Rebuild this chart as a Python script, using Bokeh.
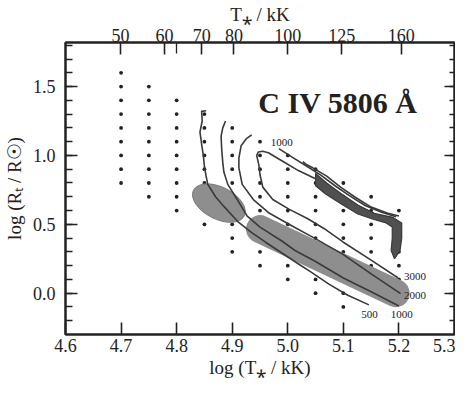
from bokeh.plotting import figure
from bokeh.models import (Range1d, LinearAxis, LogAxis, LogScale, FixedTicker,
                          SingleIntervalTicker, PrintfTickFormatter, Label,
                          CustomJSTickFormatter)
from bokeh.embed import file_html
from bokeh.resources import INLINE

# ---------------- data ----------------
x_ticks = [4.6, 4.7, 4.8, 4.9, 5.0, 5.1, 5.2, 5.3]
top_ticks_kK = [50, 60, 70, 80, 100, 125, 160]
top_minor_kK = [63.1]

grid_x = [4.70, 4.75, 4.80, 4.85, 4.90, 4.95, 5.00, 5.05, 5.10, 5.15, 5.20]
grid_y = [
    [1.6, 1.5, 1.4, 1.3, 1.2, 1.1, 1.0, 0.9, 0.8],
    [1.5, 1.4, 1.3, 1.2, 1.1, 1.0, 0.9, 0.8, 0.7],
    [1.4, 1.3, 1.2, 1.1, 1.0, 0.9, 0.8, 0.7, 0.6],
    [1.3, 1.2, 1.1, 1.0, 0.9, 0.8, 0.7, 0.6, 0.5],
    [1.2, 1.1, 1.0, 0.9, 0.8, 0.7, 0.6, 0.5, 0.4, 0.3],
    [1.1, 1.0, 0.9, 0.8, 0.7, 0.6, 0.5, 0.4, 0.3, 0.2],
    [1.0, 0.9, 0.8, 0.7, 0.6, 0.5, 0.4, 0.3, 0.2, 0.1],
    [0.9, 0.8, 0.7, 0.6, 0.5, 0.4, 0.3, 0.2, 0.1, 0.0],
    [0.8, 0.7, 0.6, 0.5, 0.4, 0.3, 0.2, 0.1, 0.0, -0.1],
    [0.7, 0.6, 0.5, 0.4, 0.3, 0.2, 0.1, 0.0],
    [0.6, 0.5, 0.4, 0.3, 0.2, 0.1],
]

# shaded regions (observed stars)
blob_x, blob_y = [4.876], [0.654]
band_x = [4.950, 5.194]
band_y = [0.465, 0.000]

# contour lines (equivalent width)
c500_x = [4.853, 4.845, 4.846, 4.842, 4.845, 4.848, 4.850, 4.853, 4.856, 4.870, 4.885,
          4.910, 4.935, 4.960, 4.990, 5.020, 5.040, 5.074, 5.108, 5.146]
c500_y = [1.325, 1.320, 1.25, 1.17, 1.08, 1.00, 0.92, 0.85, 0.79, 0.70, 0.63,
          0.52, 0.44, 0.37, 0.29, 0.21, 0.158, 0.066, -0.015, -0.085]

c1000_x = [4.888, 4.883, 4.880, 4.881, 4.883, 4.885, 4.892, 4.909, 4.927, 4.950,
           4.990, 5.013, 5.050, 5.100, 5.150, 5.200]
c1000_y = [1.250, 1.200, 1.140, 1.050, 0.950, 0.880, 0.790, 0.680, 0.560, 0.480,
           0.377, 0.310, 0.230, 0.110, 0.010, -0.093]

c2000_x = [4.935, 4.925, 4.916, 4.912, 4.912, 4.918, 4.938, 4.967, 5.007, 5.048,
           5.100, 5.150, 5.203]
c2000_y = [1.150, 1.120, 1.070, 0.980, 0.910, 0.790, 0.680, 0.580, 0.490, 0.400,
           0.280, 0.140, -0.003]

c3000_x = [5.198, 5.150, 5.100, 5.065, 5.036, 5.002, 4.973, 4.955, 4.950, 4.948,
           4.944, 4.947, 4.955, 4.965, 4.990, 5.019, 5.048, 5.075, 5.100, 5.130,
           5.160, 5.190, 5.203, 5.203, 5.200, 5.192]
c3000_y = [0.112, 0.240, 0.370, 0.470, 0.540, 0.610, 0.680, 0.770, 0.860, 0.930,
           1.000, 1.025, 1.030, 1.020, 0.960, 0.890, 0.835, 0.770, 0.700, 0.625,
           0.570, 0.545, 0.500, 0.400, 0.310, 0.255]

t2_x = [4.984, 5.007, 5.035, 5.060, 5.085, 5.110, 5.140, 5.170, 5.195]
t2_y = [1.050, 0.990, 0.920, 0.855, 0.780, 0.710, 0.635, 0.585, 0.555]
t3_x = [5.027, 5.035, 5.045, 5.070, 5.095, 5.120, 5.150, 5.180, 5.200]
t3_y = [0.955, 0.930, 0.910, 0.850, 0.770, 0.700, 0.625, 0.580, 0.560]

tongue_x = [5.050, 5.070, 5.097, 5.126, 5.155, 5.189, 5.205, 5.205, 5.202, 5.192,
            5.186, 5.188, 5.188, 5.177, 5.155, 5.126, 5.097, 5.068, 5.050]
tongue_y = [0.870, 0.800, 0.720, 0.640, 0.580, 0.550, 0.510, 0.400, 0.310, 0.250,
            0.310, 0.400, 0.480, 0.510, 0.535, 0.575, 0.645, 0.720, 0.780]

contour_labels = ["1000", "3000", "2000", "500", "1000"]
contour_label_x = [4.989, 5.209, 5.209, 5.147, 5.205]
contour_label_y = [1.095, 0.123, -0.015, -0.154, -0.154]
contour_label_align = ["center", "left", "left", "center", "center"]

x_title = "log (T⁎ / kK)"
top_title = "T⁎ / kK"
y_title = "log (Rₜ / R☉)"
line_title = "C IV 5806 Å"

# ---------------- figure ----------------
SERIF = "Liberation Serif"
INK = "#222222"
LINE = "#3a3a3a"
X0, X1 = 4.6, 5.3
Y0, Y1 = -0.30, 1.82

p = figure(width=455, height=382, x_range=Range1d(X0, X1), y_range=Range1d(Y0, Y1),
           extra_x_ranges={"T": Range1d(10 ** (X0 - 3), 10 ** (X1 - 3))},
           extra_x_scales={"T": LogScale()},
           output_backend="svg", toolbar_location=None,
           min_border_left=62, min_border_right=1, min_border_top=42,
           min_border_bottom=48)
p.grid.visible = False
p.background_fill_color = "white"
p.border_fill_color = "white"
p.outline_line_color = INK
p.outline_line_width = 2


def style_axis(ax, major_in, minor_in, standoff, label=None, label_standoff=0):
    ax.axis_line_width = 2
    ax.axis_line_color = INK
    ax.major_tick_in = major_in
    ax.major_tick_out = 0
    ax.minor_tick_in = minor_in
    ax.minor_tick_out = 0
    ax.major_tick_line_width = 1.6
    ax.minor_tick_line_width = 1.3
    ax.major_tick_line_color = INK
    ax.minor_tick_line_color = INK
    ax.major_label_text_font = SERIF
    ax.major_label_text_font_size = "18px"
    ax.major_label_text_color = INK
    ax.major_label_standoff = standoff
    ax.axis_label = label
    ax.axis_label_text_font = SERIF
    ax.axis_label_text_font_size = "19px"
    ax.axis_label_text_font_style = "normal"
    ax.axis_label_text_color = INK
    ax.axis_label_standoff = label_standoff


xa = p.xaxis[0]
xa.ticker = FixedTicker(ticks=x_ticks)
xa.formatter = PrintfTickFormatter(format="%.1f")
style_axis(xa, 12, 0, 4, x_title, 2)

ya = p.yaxis[0]
ya.ticker = SingleIntervalTicker(interval=0.5, num_minor_ticks=5)
ya.formatter = PrintfTickFormatter(format="%.1f")
style_axis(ya, 12, 7, 10, y_title, 5)

top = LogAxis(x_range_name="T",
              ticker=FixedTicker(ticks=top_ticks_kK, minor_ticks=top_minor_kK),
              formatter=PrintfTickFormatter(format="%d"))
style_axis(top, 12, 11, 1, top_title, 1)
p.add_layout(top, "above")

right = LinearAxis(ticker=SingleIntervalTicker(interval=0.5, num_minor_ticks=5),
                   formatter=CustomJSTickFormatter(code="return ''"))
style_axis(right, 10, 5, 0)
p.add_layout(right, "right")

# grid of models
gx, gy = [], []
for xc, ys in zip(grid_x, grid_y):
    for yv in ys:
        gx.append(xc)
        gy.append(yv)
p.scatter(gx, gy, size=3.8, color=INK, line_color=None)

# shaded observed regions
GREY = "#8e8e8e"
p.ellipse(x=blob_x, y=blob_y, width=57, height=32, width_units="screen",
          height_units="screen", angle=-0.47, fill_color=GREY, line_color="#7a7a7a",
          line_width=1)
p.line(band_x, band_y, line_width=28, line_cap="round", line_color=GREY)

# contours
for cx, cy in [(c500_x, c500_y), (c1000_x, c1000_y), (c2000_x, c2000_y),
               (c3000_x, c3000_y), (t2_x, t2_y), (t3_x, t3_y)]:
    p.line(cx, cy, line_color=LINE, line_width=1.6, line_join="round")
p.patch(tongue_x, tongue_y, fill_color="#505050", line_color=LINE, line_width=1.2)

for t, lx, ly, al in zip(contour_labels, contour_label_x, contour_label_y,
                         contour_label_align):
    p.add_layout(Label(x=lx, y=ly, text=t, text_font=SERIF, text_font_size="11px",
                       text_color=INK, text_align=al, text_baseline="middle"))

# line identification
p.add_layout(Label(x=4.947, y=1.387, text=line_title, text_font=SERIF,
                   text_font_size="30px", text_font_style="bold", text_color=INK,
                   text_baseline="alphabetic"))

open("out.html", "w").write(file_html(p, INLINE))
